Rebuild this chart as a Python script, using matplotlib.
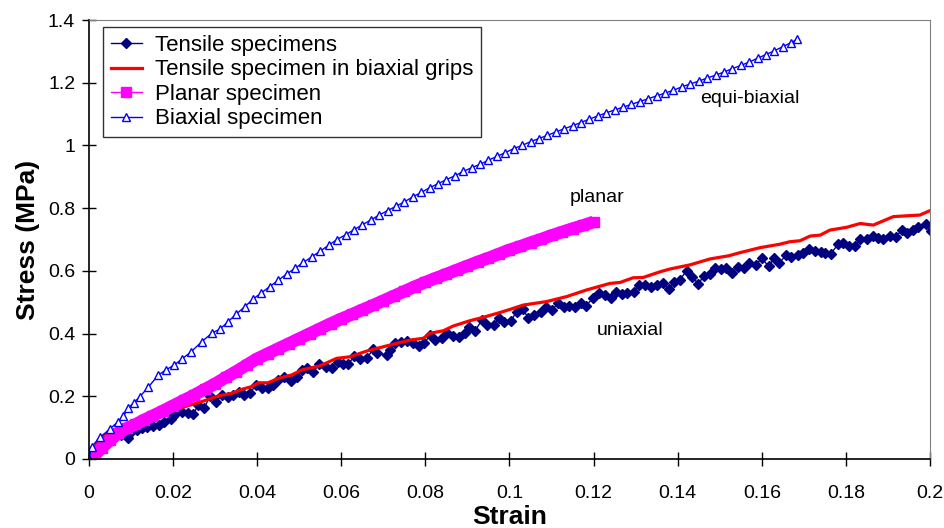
import matplotlib
matplotlib.use("Agg")
import matplotlib.pyplot as plt

plt.rcParams["font.family"] = ["Liberation Sans", "DejaVu Sans"]

# Tensile specimens (strain, stress in MPa)
tensile_strain = [
    0, 0.0015, 0.003, 0.0045, 0.006, 0.0075, 0.0092, 0.0101, 0.0113, 0.0127,
    0.0139, 0.0153, 0.0166, 0.0179, 0.0195, 0.0200, 0.0206, 0.0220, 0.0235, 0.0248,
    0.0260, 0.0274, 0.0288, 0.0302, 0.0316, 0.0330, 0.0343, 0.0357, 0.0369, 0.0383,
    0.0396, 0.0411, 0.0425, 0.0438, 0.0450, 0.0464, 0.0480, 0.0494, 0.0507, 0.0519,
    0.0533, 0.0548, 0.0564, 0.0578, 0.0591, 0.0605, 0.0617, 0.0631, 0.0644, 0.0660,
    0.0676, 0.0685, 0.0709, 0.0716, 0.0728, 0.0742, 0.0756, 0.0770, 0.0785, 0.0797,
    0.0811, 0.0823, 0.0839, 0.0852, 0.0866, 0.0880, 0.0894, 0.0904, 0.0918, 0.0934,
    0.0946, 0.0962, 0.0976, 0.0988, 0.1003, 0.1017, 0.1031, 0.1045, 0.1058, 0.1076,
    0.1087, 0.1100, 0.1116, 0.1130, 0.1142, 0.1156, 0.1169, 0.1182, 0.1198, 0.1213,
    0.1227, 0.1241, 0.1253, 0.1267, 0.1280, 0.1296, 0.1309, 0.1322, 0.1336, 0.1350,
    0.1364, 0.1380, 0.1391, 0.1405, 0.1421, 0.1435, 0.1449, 0.1462, 0.1477, 0.1489,
    0.1502, 0.1516, 0.1530, 0.1544, 0.1558, 0.1570, 0.1586, 0.1600, 0.1616, 0.1629,
    0.1642, 0.1658, 0.1669, 0.1685, 0.1699, 0.1713, 0.1727, 0.1740, 0.1750, 0.1764,
    0.1782, 0.1794, 0.1808, 0.1822, 0.1834, 0.1850, 0.1864, 0.1877, 0.1889, 0.1905,
    0.1919, 0.1933, 0.1946, 0.1959, 0.1972, 0.1990, 0.2002, 0.2014,
]
tensile_stress = [
    0, 0.025, 0.045, 0.058, 0.068, 0.075, 0.066, 0.087, 0.092, 0.098,
    0.103, 0.105, 0.108, 0.119, 0.127, 0.137, 0.146, 0.151, 0.148, 0.143,
    0.172, 0.162, 0.202, 0.183, 0.204, 0.199, 0.204, 0.215, 0.204, 0.209,
    0.236, 0.225, 0.225, 0.236, 0.252, 0.262, 0.250, 0.262, 0.284, 0.289,
    0.278, 0.303, 0.292, 0.289, 0.310, 0.303, 0.303, 0.328, 0.318, 0.321,
    0.350, 0.337, 0.332, 0.348, 0.369, 0.374, 0.377, 0.369, 0.360, 0.369,
    0.395, 0.379, 0.387, 0.403, 0.392, 0.390, 0.403, 0.420, 0.408, 0.443,
    0.427, 0.427, 0.451, 0.438, 0.440, 0.470, 0.477, 0.451, 0.459, 0.470,
    0.484, 0.475, 0.496, 0.484, 0.488, 0.484, 0.496, 0.489, 0.512, 0.530,
    0.523, 0.512, 0.533, 0.526, 0.528, 0.533, 0.555, 0.555, 0.547, 0.555,
    0.562, 0.541, 0.565, 0.571, 0.600, 0.581, 0.558, 0.584, 0.590, 0.608,
    0.605, 0.608, 0.594, 0.613, 0.608, 0.626, 0.619, 0.640, 0.615, 0.640,
    0.626, 0.650, 0.643, 0.650, 0.658, 0.669, 0.664, 0.661, 0.656, 0.654,
    0.686, 0.688, 0.679, 0.679, 0.701, 0.701, 0.711, 0.704, 0.701, 0.711,
    0.709, 0.730, 0.720, 0.730, 0.741, 0.749, 0.728, 0.752,
]

# Tensile specimen in biaxial grips
grips_strain = [
    0, 0.0022, 0.0038, 0.0062, 0.0086, 0.0109, 0.0149, 0.0181, 0.0208, 0.0228,
    0.0268, 0.0307, 0.0339, 0.0363, 0.0387, 0.0403, 0.0426, 0.0450, 0.0482, 0.0506,
    0.0549, 0.0589, 0.0621, 0.0660, 0.0700, 0.0732, 0.0763, 0.0795, 0.0811, 0.0843,
    0.0866, 0.0906, 0.0938, 0.0977, 0.1001, 0.1033, 0.1088, 0.1136, 0.1183, 0.1239,
    0.1263, 0.1294, 0.1318, 0.1358, 0.1382, 0.1429, 0.1477, 0.1521, 0.1548, 0.1596,
    0.1643, 0.1667, 0.1691, 0.1715, 0.1739, 0.1762, 0.1802, 0.1834, 0.1865, 0.1913,
    0.1976, 0.2000,
]
grips_stress = [
    0, 0.061, 0.077, 0.092, 0.103, 0.119, 0.135, 0.143, 0.158, 0.167,
    0.183, 0.201, 0.209, 0.222, 0.231, 0.243, 0.243, 0.257, 0.268, 0.284,
    0.297, 0.321, 0.326, 0.344, 0.358, 0.369, 0.379, 0.385, 0.401, 0.409,
    0.424, 0.441, 0.452, 0.467, 0.477, 0.491, 0.502, 0.518, 0.539, 0.560,
    0.563, 0.578, 0.579, 0.597, 0.606, 0.619, 0.638, 0.648, 0.658, 0.674,
    0.685, 0.693, 0.696, 0.711, 0.714, 0.730, 0.739, 0.751, 0.746, 0.773,
    0.778, 0.792,
]

# Planar specimen
planar_strain = [
    0, 0.0014, 0.0030, 0.0050, 0.0070, 0.0090, 0.0110, 0.0130, 0.0150, 0.0175,
    0.0200, 0.0225, 0.0250, 0.0275, 0.0300, 0.0325, 0.0350, 0.0375, 0.0400, 0.0425,
    0.0450, 0.0475, 0.0500, 0.0525, 0.0550, 0.0575, 0.0600, 0.0625, 0.0650, 0.0675,
    0.0700, 0.0725, 0.0750, 0.0775, 0.0800, 0.0825, 0.0850, 0.0875, 0.0900, 0.0925,
    0.0950, 0.0975, 0.1000, 0.1025, 0.1050, 0.1075, 0.1100, 0.1125, 0.1150, 0.1175,
    0.1200,
]
planar_stress = [
    0, 0.013, 0.035, 0.060, 0.083, 0.098, 0.110, 0.124, 0.137, 0.153,
    0.170, 0.187, 0.204, 0.222, 0.240, 0.260, 0.279, 0.300, 0.320, 0.336,
    0.352, 0.368, 0.384, 0.400, 0.416, 0.432, 0.447, 0.461, 0.476, 0.490,
    0.505, 0.520, 0.535, 0.550, 0.564, 0.577, 0.590, 0.603, 0.616, 0.629,
    0.641, 0.654, 0.667, 0.678, 0.690, 0.701, 0.713, 0.724, 0.735, 0.745,
    0.756,
]

# Biaxial specimen
biaxial_strain = [
    0, 0.0006, 0.0026, 0.0050, 0.0068, 0.0082, 0.0093, 0.0107, 0.0121, 0.0141,
    0.0165, 0.0184, 0.0203, 0.0222, 0.0243, 0.0268, 0.0292, 0.0312, 0.0330, 0.0350,
    0.0370, 0.0390, 0.0410, 0.0430, 0.0450, 0.0470, 0.0490, 0.0510, 0.0530, 0.0550,
    0.0570, 0.0590, 0.0610, 0.0630, 0.0650, 0.0670, 0.0690, 0.0710, 0.0730, 0.0750,
    0.0770, 0.0790, 0.0810, 0.0830, 0.0850, 0.0870, 0.0890, 0.0910, 0.0930, 0.0950,
    0.0970, 0.0990, 0.1010, 0.1030, 0.1050, 0.1070, 0.1090, 0.1110, 0.1130, 0.1150,
    0.1170, 0.1190, 0.1210, 0.1230, 0.1250, 0.1270, 0.1290, 0.1310, 0.1330, 0.1350,
    0.1370, 0.1390, 0.1410, 0.1430, 0.1450, 0.1470, 0.1490, 0.1510, 0.1530, 0.1550,
    0.1570, 0.1590, 0.1610, 0.1630, 0.1650, 0.1670, 0.1683,
]
biaxial_stress = [
    0, 0.039, 0.069, 0.096, 0.118, 0.137, 0.162, 0.180, 0.199, 0.229,
    0.268, 0.285, 0.300, 0.320, 0.342, 0.374, 0.401, 0.415, 0.437, 0.462,
    0.485, 0.510, 0.530, 0.550, 0.570, 0.590, 0.608, 0.627, 0.645, 0.663,
    0.682, 0.700, 0.715, 0.731, 0.747, 0.762, 0.778, 0.792, 0.806, 0.820,
    0.836, 0.850, 0.865, 0.878, 0.891, 0.903, 0.917, 0.929, 0.940, 0.953,
    0.965, 0.977, 0.990, 1.000, 1.012, 1.022, 1.032, 1.043, 1.053, 1.063,
    1.073, 1.084, 1.094, 1.104, 1.113, 1.122, 1.131, 1.140, 1.149, 1.158,
    1.167, 1.176, 1.187, 1.196, 1.205, 1.215, 1.224, 1.234, 1.245, 1.255,
    1.266, 1.278, 1.290, 1.302, 1.315, 1.328, 1.338,
]

x_ticks = [0, 0.02, 0.04, 0.06, 0.08, 0.1, 0.12, 0.14, 0.16, 0.18, 0.2]
x_tick_labels = ["0", "0.02", "0.04", "0.06", "0.08", "0.1", "0.12", "0.14", "0.16", "0.18", "0.2"]
y_ticks = [0, 0.2, 0.4, 0.6, 0.8, 1.0, 1.2, 1.4]
y_tick_labels = ["0", "0.2", "0.4", "0.6", "0.8", "1", "1.2", "1.4"]

fig = plt.figure(figsize=(9.45, 5.28), dpi=100)
ax = fig.add_axes([0.0942, 0.1307, 0.8899, 0.8314])

ax.plot(tensile_strain, tensile_stress, color="#000080", lw=1, marker="D",
        markersize=4.8, label="Tensile specimens")
ax.plot(grips_strain, grips_stress, color="#FF0000", lw=2.3,
        label="Tensile specimen in biaxial grips")
# thick band under the planar squares
ax.plot(planar_strain, planar_stress, color="#FF00FF", lw=9, solid_capstyle="butt")
ax.plot(planar_strain, planar_stress, color="#FF00FF", lw=1, marker="s",
        markersize=7, label="Planar specimen")
ax.plot(biaxial_strain, biaxial_stress, color="#0000FF", lw=1, marker="^",
        markersize=5.5, markerfacecolor="white", markeredgecolor="#0000FF",
        markeredgewidth=1, label="Biaxial specimen")

ax.text(0.1453, 1.151, "equi-biaxial", fontsize=14, va="center")
ax.text(0.1144, 0.835, "planar", fontsize=14, va="center")
ax.text(0.1208, 0.411, "uniaxial", fontsize=14, va="center")

ax.set_xlim(0, 0.2)
ax.set_ylim(0, 1.4)
ax.set_xticks(x_ticks)
ax.set_xticklabels(x_tick_labels)
ax.set_yticks(y_ticks)
ax.set_yticklabels(y_tick_labels)
ax.tick_params(direction="inout", length=10, width=1, labelsize=14, color="black")
ax.tick_params(axis="x", pad=14)
ax.tick_params(axis="y", pad=5)

for side in ["top", "right"]:
    ax.spines[side].set_color("#808080")
for side in ["left", "bottom"]:
    ax.spines[side].set_color("black")
    ax.spines[side].set_linewidth(1.2)

ax.set_xlabel("Strain", fontsize=19, fontweight="bold", labelpad=2)
ax.set_ylabel("Stress (MPa)", fontsize=19, fontweight="bold", labelpad=6)

leg = ax.legend(loc="upper left", bbox_to_anchor=(0.0166, 0.984), borderaxespad=0,
                fontsize=16, frameon=True, fancybox=False, handlelength=1.4,
                handletextpad=0.6, labelspacing=0.16, borderpad=0.35)
leg.get_frame().set_edgecolor("black")
leg.get_frame().set_linewidth(1)

fig.savefig("out.png", dpi=100)
